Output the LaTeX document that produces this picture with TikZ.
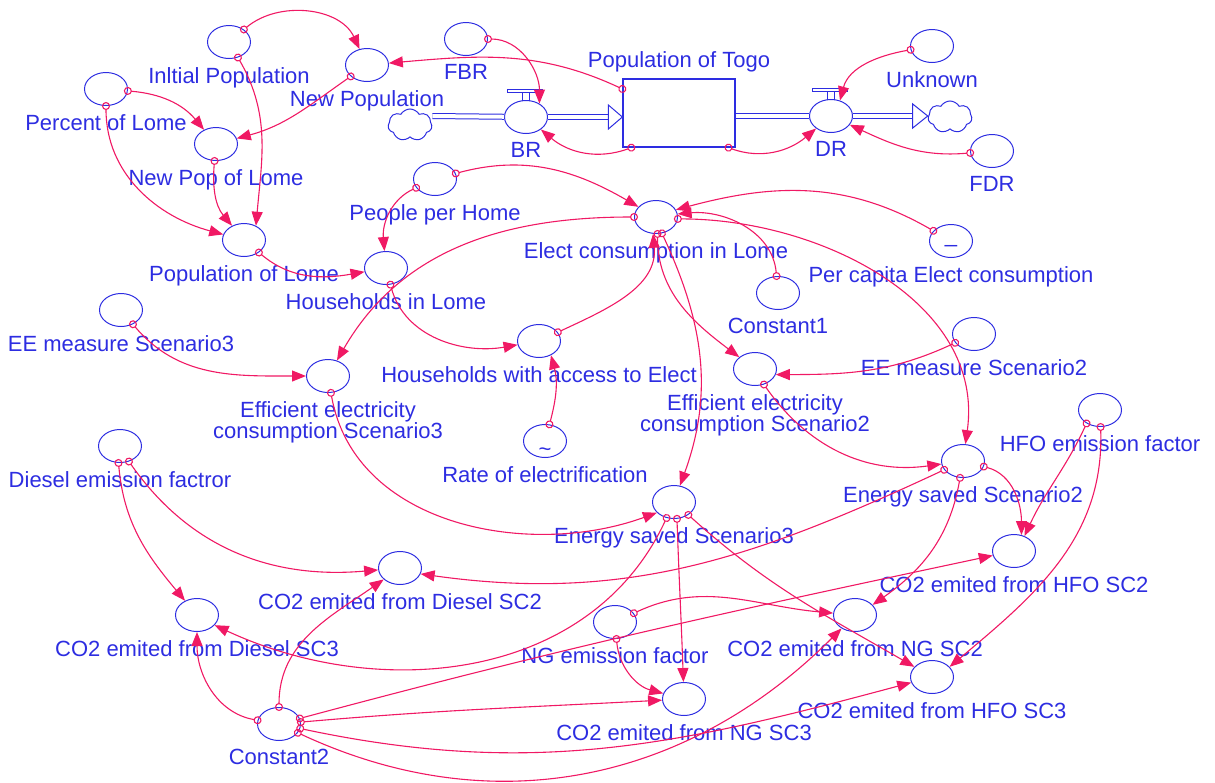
\documentclass[tikz,border=0pt]{standalone}
\usepackage{fontspec}
\setmainfont{Liberation Sans}
\usetikzlibrary{arrows.meta,shapes.geometric,shapes.symbols}
\definecolor{vblue}{RGB}{45,45,225}
\definecolor{lpink}{RGB}{240,25,100}
\tikzset{
  aux/.style={ellipse, draw=vblue, line width=1pt, minimum width=43pt, minimum height=33pt, inner sep=0pt},
  valve/.style={aux, fill=white},
  stock/.style={rectangle, draw=vblue, line width=1.3pt, minimum width=112pt, minimum height=68pt, inner sep=0pt},
  cloudy/.style={cloud, cloud puffs=7, cloud puff arc=120, draw=vblue, line width=1pt, minimum width=44pt, minimum height=32pt, inner sep=0pt},
  lbl/.style={text=vblue, font=\fontsize{22}{21}\selectfont, inner sep=0pt, align=center, label distance=8pt},
  pipe/.style={draw=vblue, line width=1pt, double=white, double distance=4pt},
  head/.style={draw=vblue, line width=1pt, fill=white},
  lnk/.style={draw=lpink, line width=1.1pt, {Circle[open,length=8pt,width=8pt]}-{Triangle[length=14pt,width=11pt]}, shorten <=-4pt}
}

\begin{document}
\begin{tikzpicture}[x=1pt,y=1pt]
  \useasboundingbox (0,0) rectangle (1215,-782);
  \def\auxs{ini/229/42/Inltial Population, npop/367/65/New Population,
    pct/106/89/Percent of Lome, nplm/216/144/New Pop of Lome, poplm/244/240/Population of Lome,
    fbr/466/39/FBR, unk/932/46/Unknown, fdr/992/151/FDR,
    pph/435/179/People per Home, hhl/386/268/Households in Lome, elc/656/217/Elect consumption in Lome,
    pce/951/241/Per capita Elect consumption, cst1/778/293/Constant1,
    hha/539/341/Households with access to Elect, roe/545/441/Rate of electrification,
    eff2/755/369/{Efficient electricity\\consumption Scenario2}, ee2/974/334/EE measure Scenario2,
    es2/963/461/Energy saved Scenario2, hfo/1100/410/HFO emission factor,
    ee3/121/310/EE measure Scenario3, eff3/328/376/{Efficient electricity\\consumption Scenario3},
    dsl/120/446/Diesel emission factror, cd3/197/615/CO2 emited from Diesel SC3,
    cd2/400/568/CO2 emited from Diesel SC2, cst2/279/724/Constant2,
    es3/674/502/Energy saved Scenario3, ngf/615/622/NG emission factor,
    cn3/684/699/CO2 emited from NG SC3, ch2/1014/551/CO2 emited from HFO SC2,
    cn2/855/615/CO2 emited from NG SC2, ch3/932/677/CO2 emited from HFO SC3}
  % auxiliaries and constants
  \foreach \nm/\px/\py/\txt in \auxs {\node[aux, label={[lbl]below:\txt}] (\nm) at (\px,-\py) {};}
  \node[lbl, font=\fontsize{22}{22}\selectfont] (pcemark) at ([yshift=-4pt]pce.center) {\_};
  \node[lbl, font=\fontsize{22}{22}\selectfont] (roemark) at ([yshift=-11pt]roe.center) {\textasciitilde};
  % stock, valves, clouds
  \node[stock, label={[lbl,label distance=6pt]above:Population of Togo}] (stock) at (679,-113) {};
  \node[valve, label={[lbl]below:BR}] (br) at (526,-117) {};
  \node[valve, label={[lbl]below:DR}] (dr) at (831,-116) {};
  \node[cloudy] (src) at (410,-125) {};
  \node[cloudy] (sink) at (950,-117) {};
  \foreach \v in {br,dr} {
    \draw[head] ([xshift=-3.5pt]\v.north) rectangle ([xshift=3.5pt,yshift=8pt]\v.north);
    \draw[head] ([xshift=-19pt,yshift=8pt]\v.north) rectangle ([xshift=16pt,yshift=11pt]\v.north);
  }
  % flows
  \draw[pipe] ([yshift=9pt]src.east) -- (br);
  \draw[pipe, shorten >=14pt] (br) -- (br -| stock.west);
  \draw[head] (br -| stock.west) -- ++(-14,12) -- ++(0,-24) -- cycle;
  \draw[pipe] (stock.east |- dr) -- (dr);
  \draw[pipe, shorten >=15pt] (dr) -- (dr -| sink.west);
  \draw[head] (dr -| sink.west) -- ++(-15,12) -- ++(0,-24) -- cycle;
  % population links
  \draw[lnk] (ini) to[out=40,in=115] (npop);
  \draw[lnk] (ini) to[out=-60,in=85] (poplm.50);
  \draw[lnk] (pct) to[out=-5,in=130] (nplm);
  \draw[lnk] (pct) to[out=-90,in=165] (poplm);
  \draw[lnk] (npop) to[out=215,in=15] (nplm);
  \draw[lnk] (nplm) to[out=-95,in=130] (poplm);
  \draw[lnk] (poplm) to[out=-40,in=190] (hhl);
  \draw[lnk] (stock.157) to[out=155,in=5] (npop);
  \draw[lnk] (fbr) to[out=0,in=90] (br.45);
  \draw[lnk] (stock.216) to[out=200,in=-40] (br);
  \draw[lnk] (stock.-35) to[out=-20,in=220] (dr);
  \draw[lnk] (unk) to[out=190,in=75] (dr.60);
  \draw[lnk] (fdr) to[out=185,in=-25] (dr);
  % electricity links
  \draw[lnk] (pph) to[out=205,in=95] (hhl);
  \draw[lnk] (pph) to[out=15,in=150] (elc);
  \draw[lnk] (elc) to[out=180,in=60] (eff3);
  \draw[lnk] (hhl.-75) to[out=-75,in=190] (hha);
  \draw[lnk] (hha) to[out=25,in=-85] (elc.-100);
  \draw[lnk] (roe) to[out=75,in=-75] (hha.-50);
  \draw[lnk] (pce) to[out=150,in=15] (elc.20);
  \draw[lnk] (cst1) to[out=95,in=5] (elc.8);
  \draw[lnk] (elc.-5) to[out=0,in=82] (es2);
  \draw[lnk] (elc.-85) to[out=-90,in=143] (eff2);
  \draw[lnk] (elc.-70) to[out=-65,in=70] (es3.70);
  \draw[lnk] (ee2) to[out=205,in=0] (eff2.-15);
  \draw[lnk] (eff2.-60) to[out=-55,in=188] (es2);
  \draw[lnk] (ee3) to[out=-50,in=180] (eff3);
  \draw[lnk] (eff3) to[out=-80,in=200] (es3.212);
  % emission links
  \draw[lnk] (dsl.-95) to[out=-85,in=130] (cd3);
  \draw[lnk] (dsl.-60) to[out=-55,in=185] (cd2);
  \draw[lnk] (cst2) to[out=170,in=-90] (cd3);
  \draw[lnk] (cst2) to[out=90,in=215] (cd2);
  \draw[lnk] (es2) to[out=205,in=-8] (cd2.-16);
  \draw[lnk] (es3) to[out=-115,in=-25] (cd3.-30);
  \draw[lnk] (es3.-80) to[out=-88,in=92] (cn3);
  \draw[lnk] (es3) to[out=-42,in=150] (ch3);
  \draw[lnk] (ngf) to[out=-85,in=165] (cn3);
  \draw[lnk] (ngf) to[out=25,in=175] (cn2);
  \draw[lnk] (es2) to[out=-100,in=35] (cn2.30);
  \draw[lnk] (es2) to[out=-15,in=90] (ch2.65);
  \draw[lnk] (hfo.-135) to[out=-115,in=65] (ch2.55);
  \draw[lnk] (hfo) to[out=-88,in=40] (ch3.30);
  \draw[lnk] (cst2) to[out=15,in=192] (ch2);
  \draw[lnk] (cst2) to[out=5,in=183] (cn3);
  \draw[lnk] (cst2) to[out=-12,in=195] (ch3);
  \draw[lnk] (cst2) to[out=-25,in=225] (cn2);
\end{tikzpicture}
\end{document}
